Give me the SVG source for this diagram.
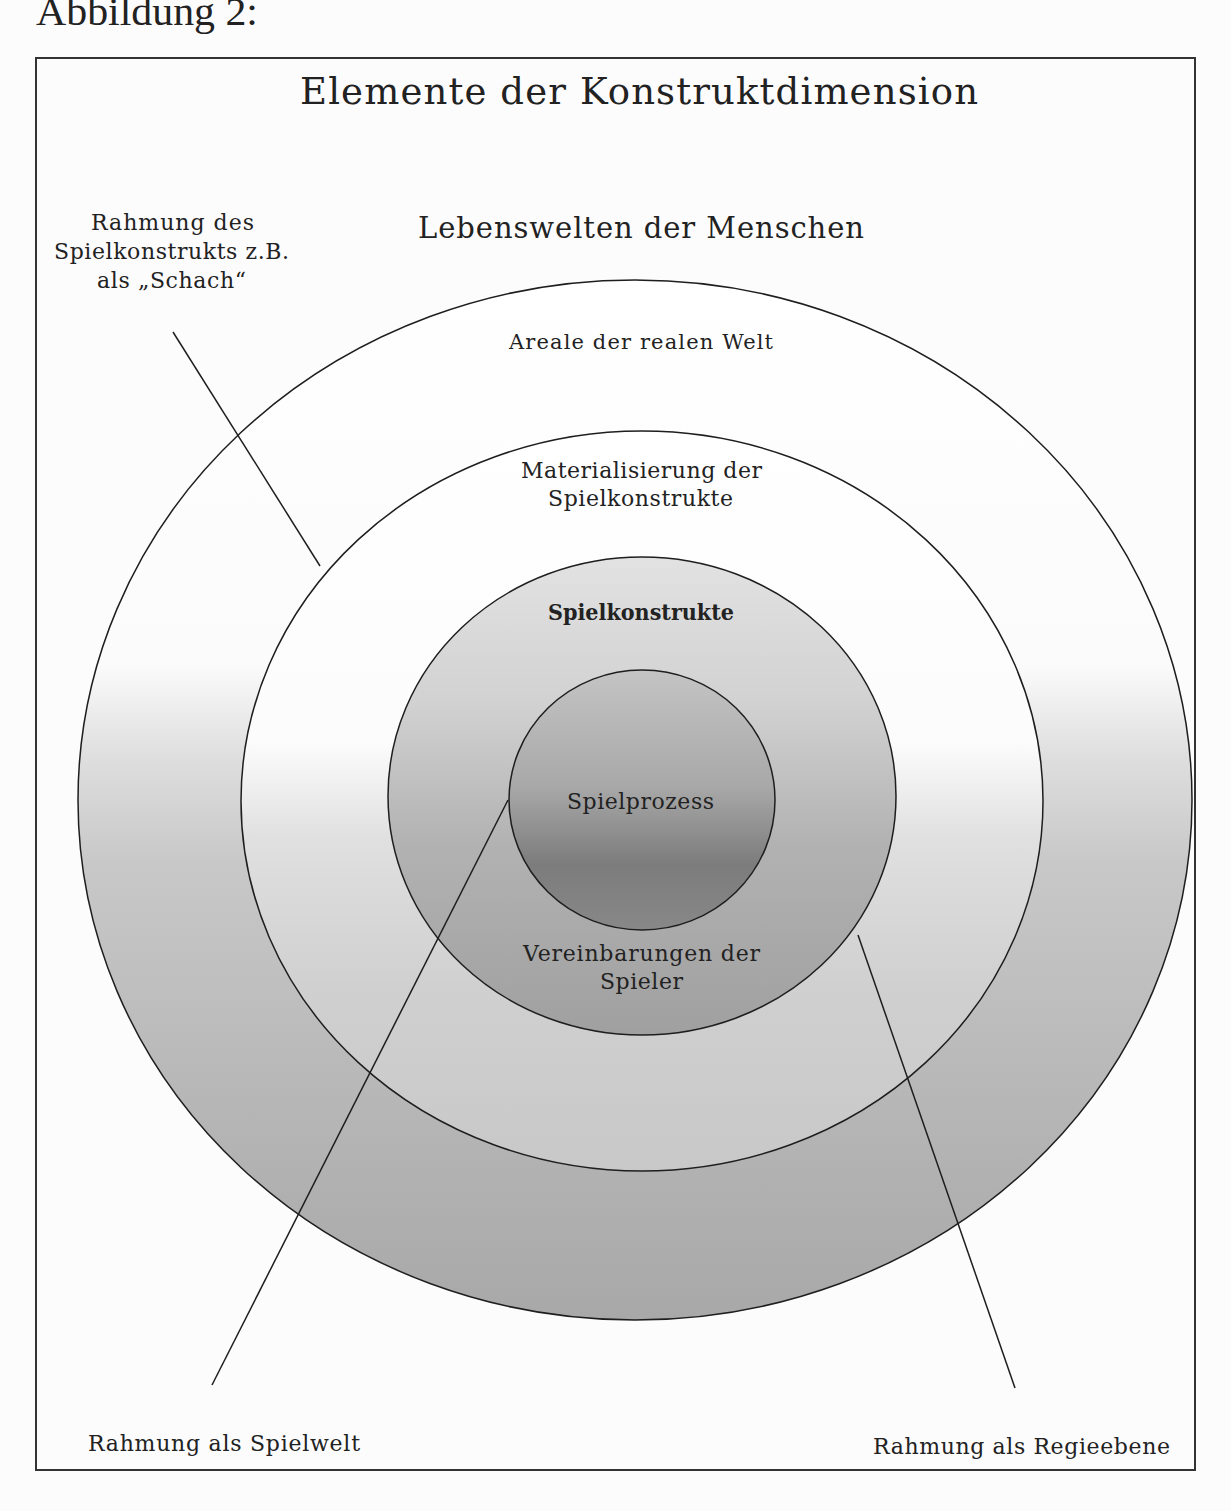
<svg xmlns="http://www.w3.org/2000/svg" width="1231" height="1511" viewBox="0 0 1231 1511">
<style>
.t{font-family:"DejaVu Serif","Liberation Serif",serif;fill:#222}
.a{font-family:"Liberation Serif","DejaVu Serif",serif;fill:#222}
.ring{stroke:#1e1e1e;stroke-width:1.5}
.ln{stroke:#1e1e1e;stroke-width:1.5;fill:none}
</style>
<defs>
<linearGradient id="g1" x1="0" y1="0" x2="0" y2="1">
<stop offset="0" stop-color="#ffffff"/><stop offset="0.37" stop-color="#fbfbfb"/><stop offset="0.46" stop-color="#dedede"/><stop offset="0.56" stop-color="#c8c8c8"/><stop offset="0.85" stop-color="#b2b2b2"/><stop offset="1" stop-color="#a8a8a8"/>
</linearGradient>
<linearGradient id="g2" x1="0" y1="0" x2="0" y2="1">
<stop offset="0" stop-color="#ffffff"/><stop offset="0.42" stop-color="#fcfcfc"/><stop offset="0.55" stop-color="#e0e0e0"/><stop offset="0.75" stop-color="#d0d0d0"/><stop offset="1" stop-color="#c8c8c8"/>
</linearGradient>
<linearGradient id="g3" x1="0" y1="0" x2="0" y2="1">
<stop offset="0" stop-color="#e2e2e2"/><stop offset="0.3" stop-color="#d2d2d2"/><stop offset="0.6" stop-color="#b2b2b2"/><stop offset="1" stop-color="#a0a0a0"/>
</linearGradient>
<linearGradient id="g4" x1="0" y1="0" x2="0" y2="1">
<stop offset="0" stop-color="#c4c4c4"/><stop offset="0.45" stop-color="#a8a8a8"/><stop offset="0.75" stop-color="#7c7c7c"/><stop offset="1" stop-color="#888888"/>
</linearGradient>
</defs>
<rect width="1231" height="1511" fill="#fdfcfd"/>
<text class="a" x="36" y="25" font-size="40" textLength="222" lengthAdjust="spacingAndGlyphs">Abbildung 2:</text>
<g id="frame"><rect x="36" y="58" width="1159" height="1412" fill="none" stroke="#333" stroke-width="2"/></g>
<text class="t" x="300" y="104" font-size="37" textLength="678" lengthAdjust="spacing">Elemente der Konstruktdimension</text>
<text class="t" x="418" y="238" font-size="29" textLength="446" lengthAdjust="spacing">Lebenswelten der Menschen</text>
<g id="outer">
<ellipse class="ring" cx="635" cy="800" rx="557" ry="520" fill="url(#g1)"/>
<text class="t" x="509" y="349" font-size="21" textLength="264" lengthAdjust="spacing">Areale der realen Welt</text>
</g>
<g id="second">
<ellipse class="ring" cx="642" cy="801" rx="401" ry="370" fill="url(#g2)"/>
<text class="t" x="521" y="478" font-size="22" textLength="241" lengthAdjust="spacing">Materialisierung der</text>
<text class="t" x="548" y="506" font-size="22" textLength="185" lengthAdjust="spacing">Spielkonstrukte</text>
</g>
<g id="third">
<ellipse class="ring" cx="642" cy="796" rx="254" ry="239" fill="url(#g3)"/>
<text class="t" x="548" y="620" font-size="22" font-weight="bold" textLength="186" lengthAdjust="spacingAndGlyphs">Spielkonstrukte</text>
<text class="t" x="523" y="961" font-size="22" textLength="237" lengthAdjust="spacing">Vereinbarungen der</text>
<text class="t" x="600" y="989" font-size="22" textLength="83" lengthAdjust="spacing">Spieler</text>
</g>
<g id="inner">
<ellipse class="ring" cx="642" cy="800" rx="133" ry="130" fill="url(#g4)"/>
<text class="t" x="567" y="809" font-size="22" textLength="147" lengthAdjust="spacing">Spielprozess</text>
</g>
<g id="connectors">
<line class="ln" x1="173" y1="332" x2="320" y2="566"/>
<line class="ln" x1="212" y1="1385" x2="508" y2="800"/>
<line class="ln" x1="858" y1="935" x2="1015" y2="1388"/>
</g>
<g id="labels">
<text class="t" x="91" y="230" font-size="22" textLength="163" lengthAdjust="spacing">Rahmung des</text>
<text class="t" x="54" y="259" font-size="22" textLength="235" lengthAdjust="spacing">Spielkonstrukts z.B.</text>
<text class="t" x="97" y="288" font-size="22" textLength="149" lengthAdjust="spacing">als „Schach“</text>
<text class="t" x="88" y="1451" font-size="22" textLength="272" lengthAdjust="spacing">Rahmung als Spielwelt</text>
<text class="t" x="873" y="1454" font-size="22" textLength="297" lengthAdjust="spacing">Rahmung als Regieebene</text>
</g>
</svg>
